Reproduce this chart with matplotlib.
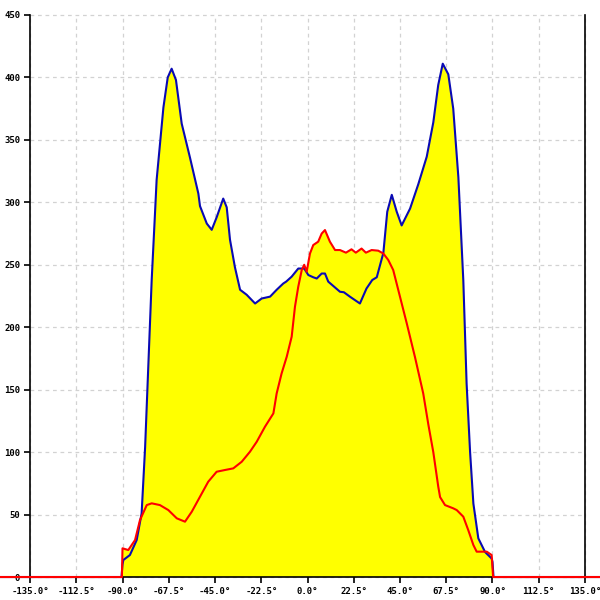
import matplotlib
matplotlib.use("Agg")
import matplotlib.pyplot as plt
import numpy as np

# ---- data ----
blue_angle = [-180, -90.5, -90, -89.6, -86.4, -83.1, -80.7, -79.0, -77.4, -75.8, -74.2, -73.4,
              -70.1, -68.0, -66.1, -64.0, -61.2, -57.2, -53.1, -52.3, -49.0, -46.6, -44.2,
              -41.0, -39.3, -37.7, -35.3, -32.8, -29.6, -25.5, -22.3, -18.2, -15.0, -11.8,
              -10.4, -7.7, -4.5, -1.6, 0.4, 2.8, 4.5, 6.9, 8.5, 10.1, 15.8, 17.7, 20.7, 25.5,
              28.7, 31.5, 33.7, 36.9, 38.8, 41.0, 43.4, 45.8, 49.9, 53.9, 58.0, 61.2, 63.6,
              65.8, 68.5, 70.9, 73.4, 75.8, 77.4, 79.1, 80.7, 83.1, 86.4, 89.6, 90.0, 90.5, 180]
blue_value = [0, 0, 10, 13.6, 17.6, 29.6, 51, 104, 171, 238, 291, 318,
              376, 400, 407, 398, 363, 336, 307, 297, 283, 278, 288,
              303, 296, 270, 248, 230, 226, 219, 223, 224.5, 230, 235,
              236.5, 240.5, 247, 247, 241.8, 240, 239, 243, 243, 236.5, 228.4, 228, 224.4, 219,
              231, 237.8, 240, 259.5, 292.5, 306, 292.5, 281.5, 295, 314.5, 336.5, 364, 394,
              411, 402.5, 375, 320, 237.5, 155, 100, 58.8, 31, 20, 14.8, 12, 0, 0]

red_angle = [-180, -90.3, -90.0, -87.2, -83.9, -81.5, -78.2, -75.8, -71.8, -67.7, -63.6,
             -59.6, -56.3, -52.3, -48.3, -44.2, -40.1, -36.1, -32.0, -28.0, -24.7, -20.7,
             -16.6, -15.0, -12.6, -10.1, -7.7, -6.1, -4.5, -2.8, -1.6, -0.4, 1.2, 2.8, 5.2,
             6.9, 8.5, 10.9, 13.4, 15.8, 18.7, 21.4, 23.5, 26.3, 28.4, 31.2, 34.4, 36.9,
             39.3, 41.7, 45.0, 48.3, 52.3, 56.3, 58.8, 61.2, 63.6, 64.5, 66.9, 70.9, 72.6,
             75.8, 78.2, 80.7, 82.3, 87.2, 89.6, 90.3, 180]
red_value = [0, 0, 23, 21.6, 29.6, 45.6, 57.6, 59, 57.6, 53.6, 47,
             44.3, 52.3, 64.3, 76.3, 84.3, 85.7, 87, 92.3, 100.3, 108.3, 120.3,
             131, 147, 163, 176.4, 192.4, 216.4, 232.4, 245.8, 250, 244.5, 259, 265.8, 268.5,
             275, 277.8, 268.5, 261.8, 261.8, 259.7, 262.4, 259.7, 263, 259.7, 261.8, 261.3, 259,
             253.8, 245.8, 224.4, 203, 176, 147, 122, 100, 72.5, 64, 57.6, 55, 53.6,
             48.3, 37.6, 25.6, 20.3, 20.3, 17.6, 0, 0]

x_ticks = [-135.0, -112.5, -90.0, -67.5, -45.0, -22.5, 0.0, 22.5, 45.0, 67.5, 90.0, 112.5, 135.0]
y_ticks = [0, 50, 100, 150, 200, 250, 300, 350, 400, 450]

# ---- figure ----
fig = plt.figure(figsize=(6, 6), dpi=100)
ax = fig.add_axes([0, 0, 1, 1])
ax.set_xlim(-149.6, 142.3)
ax.set_ylim(-18.4, 462)
ax.patch.set_facecolor("white")

# grid
ax.vlines(x_ticks, 0, 450, colors="#d2d2d2", linestyles=(0, (3, 3)), linewidth=0.9, zorder=1)
ax.hlines(y_ticks, -135, 135, colors="#d2d2d2", linestyles=(0, (3, 3)), linewidth=0.9, zorder=1)

# fills
ax.fill_between(blue_angle, blue_value, 0, color="#ffff00", linewidth=0, zorder=2)
ax.fill_between(red_angle, red_value, 0, color="#ffff00", linewidth=0, zorder=2)

# lines
ax.plot(blue_angle, blue_value, color="#0a0ab4", linewidth=1.5, zorder=3)
ax.plot(red_angle, red_value, color="#ff0000", linewidth=1.5, zorder=4)

# spines
ax.spines["top"].set_visible(False)
ax.spines["left"].set_position(("data", -135))
ax.spines["left"].set_bounds(0, 450)
ax.spines["right"].set_position(("data", 135))
ax.spines["right"].set_bounds(0, 450)
ax.spines["bottom"].set_position(("data", 0))
for s in ["left", "right", "bottom"]:
    ax.spines[s].set_linewidth(1.2)
    ax.spines[s].set_color("black")
    ax.spines[s].set_zorder(2.5)

ax.set_xticks(x_ticks)
ax.set_xticklabels([f"{v:.1f}°" for v in x_ticks])
ax.set_yticks(y_ticks)
ax.set_yticklabels([str(v) for v in y_ticks])
ax.tick_params(axis="x", direction="out", length=4, width=1.2, pad=3)
ax.tick_params(axis="y", direction="out", length=4, width=1.2, pad=3, right=False)
for lab in ax.get_xticklabels() + ax.get_yticklabels():
    lab.set_fontfamily("DejaVu Sans Mono")
    lab.set_fontsize(6.5)
    lab.set_fontweight("bold")

fig.savefig("out.png", dpi=100)
